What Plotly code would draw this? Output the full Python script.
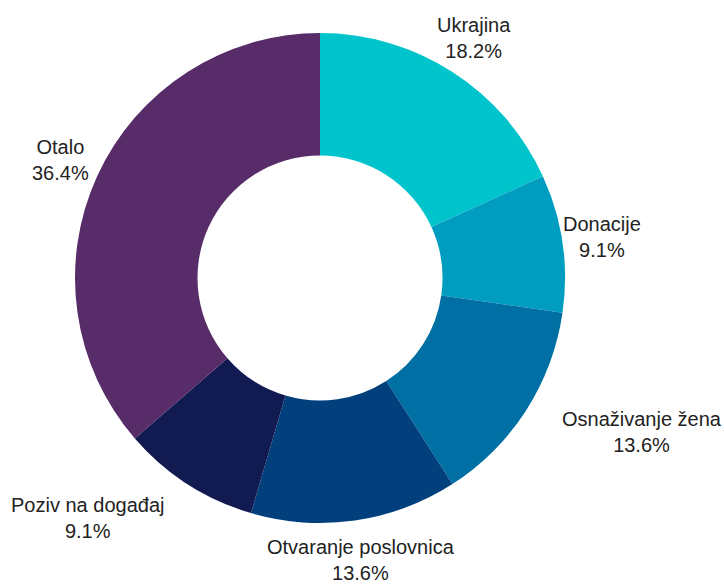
import math
import plotly.graph_objects as go

labels = ["Ukrajina", "Donacije", "Osnaživanje žena", "Otvaranje poslovnica", "Poziv na događaj", "Otalo"]
values = [4, 2, 3, 3, 2, 8]
colors = ["#00C4CC", "#009DC1", "#006FA3", "#02407D", "#121A52", "#582B69"]
label_xanchor = ["center", "center", "left", "center", "right", "center"]

fig = go.Figure(go.Pie(
    labels=labels,
    values=values,
    hole=0.5,
    sort=False,
    direction="clockwise",
    rotation=0,
    marker=dict(colors=colors, line=dict(width=0)),
    textinfo="none",
    hoverinfo="label+percent",
    showlegend=False,
))

# Label placement: along each slice's mid-angle, just outside the ring
plot_px = 490.0           # plot area size in px (square)
label_r_px = 285.0        # distance of label anchor from centre in px
total = float(sum(values))
cum = 0.0
annotations = []
for lab, v, xa in zip(labels, values, label_xanchor):
    mid = (cum + v / 2.0) / total * 2 * math.pi
    cum += v
    x = 0.5 + label_r_px * math.sin(mid) / plot_px
    y = 0.5 + label_r_px * math.cos(mid) / plot_px
    annotations.append(dict(
        x=x, y=y, xref="paper", yref="paper",
        text=f"{lab}<br>{v / total * 100:.1f}%",
        showarrow=False, xanchor=xa, yanchor="middle", align="center",
        font=dict(family="Liberation Sans, Arial, sans-serif", size=20, color="#222222"),
    ))

fig.update_layout(
    width=724, height=584,
    margin=dict(l=75, r=159, t=33, b=61),
    paper_bgcolor="white",
    plot_bgcolor="white",
    annotations=annotations,
)

fig.write_html(
    "out.html",
    config={"displayModeBar": False},
    post_script=(
        "document.body.style.margin='0';"
        "document.body.style.overflow='hidden';"
        "document.documentElement.style.overflow='hidden';"
    ),
)
